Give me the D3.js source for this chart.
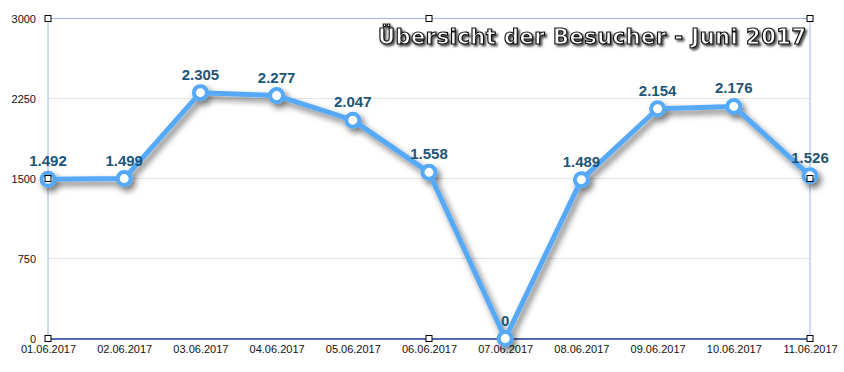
<!DOCTYPE html>
<html>
<head>
<meta charset="utf-8">
<script src="https://cdnjs.cloudflare.com/ajax/libs/d3/7.8.5/d3.min.js"></script>
<style>
  body { margin: 0; background: #fff; }
  svg { display: block; }
</style>
</head>
<body>
<div id="chart"></div>
<script>
const days = ["01.06.2017", "02.06.2017", "03.06.2017", "04.06.2017", "05.06.2017",
  "06.06.2017", "07.06.2017", "08.06.2017", "09.06.2017", "10.06.2017", "11.06.2017"];
const visitors = [1492, 1499, 2305, 2277, 2047, 1558, 0, 1489, 2154, 2176, 1526];
const yTicks = [0, 750, 1500, 2250, 3000];
const title = "Übersicht der Besucher - Juni 2017";

const width = 844, height = 372;
const margin = { top: 18.5, right: 34, bottom: 33.5, left: 48 };
const w = width - margin.left - margin.right;
const h = height - margin.top - margin.bottom;

const svg = d3.select("#chart").append("svg")
  .attr("width", width)
  .attr("height", height);

const defs = svg.append("defs");
defs.append("filter").attr("id", "shadow")
  .attr("x", "-10%").attr("y", "-20%").attr("width", "120%").attr("height", "140%")
  .append("feDropShadow")
  .attr("dx", 3).attr("dy", 4).attr("stdDeviation", 3)
  .attr("flood-color", "#000").attr("flood-opacity", 0.55);
defs.append("filter").attr("id", "tshadow")
  .append("feDropShadow")
  .attr("dx", 2).attr("dy", 2).attr("stdDeviation", 0.8)
  .attr("flood-color", "#333").attr("flood-opacity", 0.85);

const g = svg.append("g").attr("transform", `translate(${margin.left},${margin.top})`);

const x = d3.scalePoint().domain(days).range([0, w]);
const y = d3.scaleLinear().domain([0, 3000]).range([h, 0]);

// gridlines
g.append("g")
  .selectAll("line")
  .data(yTicks.filter(d => d > 0 && d < 3000))
  .enter().append("line")
  .attr("x1", 0).attr("x2", w)
  .attr("y1", d => y(d)).attr("y2", d => y(d))
  .attr("stroke", "#e4e4e4").attr("stroke-width", 1);

// frame
g.append("line").attr("x1", 0).attr("x2", w).attr("y1", 0).attr("y2", 0)
  .attr("stroke", "#9fb3f0").attr("stroke-width", 1);
g.append("line").attr("x1", 0).attr("x2", 0).attr("y1", 0).attr("y2", h)
  .attr("stroke", "#9fb3f0").attr("stroke-width", 1);
g.append("line").attr("x1", w).attr("x2", w).attr("y1", 0).attr("y2", h)
  .attr("stroke", "#9fb3f0").attr("stroke-width", 1);

// Y axis
g.append("g")
  .call(d3.axisLeft(y).tickValues(yTicks).tickFormat(d3.format("d")).tickSize(0).tickPadding(12))
  .call(g => g.select(".domain").remove())
  .call(g => g.selectAll("text")
    .attr("fill", "#111")
    .attr("font-family", "Liberation Sans, Arial, sans-serif")
    .attr("font-size", "11px"));

// X axis
g.append("g")
  .attr("transform", `translate(0,${h})`)
  .call(d3.axisBottom(x).tickSize(0).tickPadding(7))
  .call(g => g.select(".domain").attr("stroke", "#1b3a8a").attr("stroke-width", 1.5))
  .call(g => g.selectAll("text")
    .attr("fill", "#111")
    .attr("font-family", "Liberation Sans, Arial, sans-serif")
    .attr("font-size", "11px"));

// line
const line = d3.line()
  .x((d, i) => x(days[i]))
  .y(d => y(d));

const series = g.append("g").attr("filter", "url(#shadow)");
series.append("path")
  .datum(visitors)
  .attr("d", line)
  .attr("fill", "none")
  .attr("stroke", "#55a9f7")
  .attr("stroke-width", 5)
  .attr("stroke-linejoin", "round");

series.selectAll("circle")
  .data(visitors)
  .enter().append("circle")
  .attr("cx", (d, i) => x(days[i]))
  .attr("cy", d => y(d))
  .attr("r", 6.5)
  .attr("fill", "#fff")
  .attr("stroke", "#55a9f7")
  .attr("stroke-width", 4);

// value labels
const fmt = d => d3.format(",")(d).replace(/,/g, ".");
g.selectAll(".val")
  .data(visitors)
  .enter().append("text")
  .attr("class", "val")
  .text(d => fmt(d))
  .attr("x", (d, i) => x(days[i]))
  .attr("y", d => y(d) - 13)
  .attr("text-anchor", "middle")
  .attr("font-family", "Liberation Sans, Arial, sans-serif")
  .attr("font-weight", "bold")
  .attr("font-size", "15px")
  .attr("fill", "#1e5577");

// selection handles
const handles = [[0, 0], [w / 2, 0], [w, 0], [0, h / 2], [w, h / 2], [0, h], [w / 2, h], [w, h]];
g.selectAll(".handle")
  .data(handles)
  .enter().append("rect")
  .attr("class", "handle")
  .attr("x", d => d[0] - 3)
  .attr("y", d => d[1] - 3)
  .attr("width", 6).attr("height", 6)
  .attr("fill", "#fff")
  .attr("stroke", "#000")
  .attr("stroke-width", 1);

// title
svg.append("text")
  .text(title)
  .attr("x", 806)
  .attr("y", 44)
  .attr("text-anchor", "end")
  .attr("textLength", 428)
  .attr("lengthAdjust", "spacing")
  .attr("font-family", "DejaVu Sans, sans-serif")
  .attr("font-weight", "bold")
  .attr("font-size", "21px")
  .attr("fill", "#fff")
  .attr("stroke", "#111")
  .attr("stroke-width", 1.2)
  .attr("filter", "url(#tshadow)");
</script>
</body>
</html>
